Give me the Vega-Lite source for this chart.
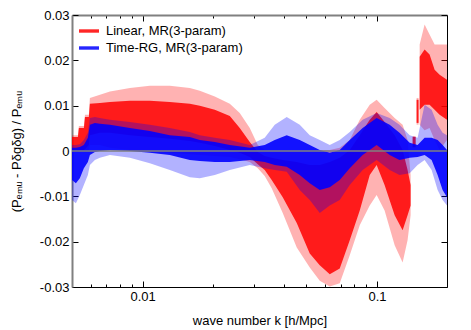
{
  "$schema": "https://vega.github.io/schema/vega-lite/v6.json",
  "width": 375,
  "height": 272,
  "autosize": {"type": "none"},
  "padding": {"left": 72, "top": 15, "right": 24, "bottom": 43},
  "background": "white",
  "config": {
    "view": {"stroke": null},
    "font": "Liberation Sans",
    "axis": {"grid": false, "labelFont": "Liberation Sans", "labelFontSize": 13, "labelColor": "black", "titleFont": "Liberation Sans", "titleFontSize": 13, "titleFontWeight": "normal", "titleColor": "black", "tickColor": "black", "labelFlush": false, "labelOverlap": false}
  },
  "data": {"values": [
    {"s": "Linear, MR(3-param)", "g": 1, "k": 0.005, "oh": 0.0035, "ch": 0.0031, "cl": 0.0002, "ol": -0.0002},
    {"s": "Linear, MR(3-param)", "g": 1, "k": 0.0053, "oh": 0.0035, "ch": 0.0031, "cl": 0.0002, "ol": -0.0002},
    {"s": "Linear, MR(3-param)", "g": 1, "k": 0.00535, "oh": 0.0055, "ch": 0.0051, "cl": 0.0002, "ol": -0.0002},
    {"s": "Linear, MR(3-param)", "g": 1, "k": 0.00562, "oh": 0.0055, "ch": 0.0051, "cl": 0.0002, "ol": -0.0002},
    {"s": "Linear, MR(3-param)", "g": 1, "k": 0.00568, "oh": 0.008, "ch": 0.0075, "cl": 0.0004, "ol": -0.0002},
    {"s": "Linear, MR(3-param)", "g": 1, "k": 0.0059, "oh": 0.008, "ch": 0.0075, "cl": 0.0013, "ol": 0.0002},
    {"s": "Linear, MR(3-param)", "g": 1, "k": 0.00596, "oh": 0.0117, "ch": 0.0104, "cl": 0.0035, "ol": 0.0013},
    {"s": "Linear, MR(3-param)", "g": 1, "k": 0.00658, "oh": 0.0124, "ch": 0.0106, "cl": 0.004, "ol": 0.0013},
    {"s": "Linear, MR(3-param)", "g": 1, "k": 0.00726, "oh": 0.0131, "ch": 0.0108, "cl": 0.004, "ol": 0.0007},
    {"s": "Linear, MR(3-param)", "g": 1, "k": 0.00883, "oh": 0.0139, "ch": 0.0111, "cl": 0.0035, "ol": 0.0002},
    {"s": "Linear, MR(3-param)", "g": 1, "k": 0.01074, "oh": 0.0144, "ch": 0.0111, "cl": 0.0031, "ol": -0.0002},
    {"s": "Linear, MR(3-param)", "g": 1, "k": 0.01307, "oh": 0.0144, "ch": 0.0108, "cl": 0.0027, "ol": -0.0004},
    {"s": "Linear, MR(3-param)", "g": 1, "k": 0.01591, "oh": 0.0139, "ch": 0.0104, "cl": 0.0022, "ol": -0.0007},
    {"s": "Linear, MR(3-param)", "g": 1, "k": 0.01755, "oh": 0.0133, "ch": 0.01, "cl": 0.0018, "ol": -0.0009},
    {"s": "Linear, MR(3-param)", "g": 1, "k": 0.02033, "oh": 0.012, "ch": 0.0091, "cl": 0.0011, "ol": -0.0011},
    {"s": "Linear, MR(3-param)", "g": 1, "k": 0.02356, "oh": 0.0104, "ch": 0.0077, "cl": 0.0002, "ol": -0.0013},
    {"s": "Linear, MR(3-param)", "g": 1, "k": 0.02598, "oh": 0.0084, "ch": 0.0051, "cl": -0.0004, "ol": -0.0018},
    {"s": "Linear, MR(3-param)", "g": 1, "k": 0.02867, "oh": 0.0051, "ch": 0.002, "cl": -0.0013, "ol": -0.0024},
    {"s": "Linear, MR(3-param)", "g": 1, "k": 0.03101, "oh": 0.0013, "ch": -0.0002, "cl": -0.0029, "ol": -0.0038},
    {"s": "Linear, MR(3-param)", "g": 1, "k": 0.0332, "oh": 0.0002, "ch": -0.0011, "cl": -0.0042, "ol": -0.0055},
    {"s": "Linear, MR(3-param)", "g": 1, "k": 0.03556, "oh": -0.0002, "ch": -0.0015, "cl": -0.0064, "ol": -0.0082},
    {"s": "Linear, MR(3-param)", "g": 1, "k": 0.03963, "oh": -0.0002, "ch": -0.002, "cl": -0.0102, "ol": -0.0137},
    {"s": "Linear, MR(3-param)", "g": 1, "k": 0.04548, "oh": -0.0002, "ch": -0.0024, "cl": -0.0159, "ol": -0.0213},
    {"s": "Linear, MR(3-param)", "g": 1, "k": 0.05168, "oh": -0.0002, "ch": -0.0031, "cl": -0.0226, "ol": -0.0257},
    {"s": "Linear, MR(3-param)", "g": 1, "k": 0.05701, "oh": 0.0002, "ch": -0.0031, "cl": -0.0252, "ol": -0.0286},
    {"s": "Linear, MR(3-param)", "g": 1, "k": 0.0629, "oh": 0.0002, "ch": -0.0024, "cl": -0.0272, "ol": -0.0299},
    {"s": "Linear, MR(3-param)", "g": 1, "k": 0.06938, "oh": 0.0007, "ch": -0.0015, "cl": -0.0259, "ol": -0.0292},
    {"s": "Linear, MR(3-param)", "g": 1, "k": 0.07654, "oh": 0.0024, "ch": 0.0002, "cl": -0.0197, "ol": -0.023},
    {"s": "Linear, MR(3-param)", "g": 1, "k": 0.08445, "oh": 0.0069, "ch": 0.0035, "cl": -0.0131, "ol": -0.0164},
    {"s": "Linear, MR(3-param)", "g": 1, "k": 0.09316, "oh": 0.0102, "ch": 0.0069, "cl": -0.0053, "ol": -0.012},
    {"s": "Linear, MR(3-param)", "g": 1, "k": 0.0997, "oh": 0.0113, "ch": 0.0086, "cl": -0.0031, "ol": -0.0097},
    {"s": "Linear, MR(3-param)", "g": 1, "k": 0.1078, "oh": 0.0095, "ch": 0.0064, "cl": -0.0075, "ol": -0.0131},
    {"s": "Linear, MR(3-param)", "g": 1, "k": 0.119, "oh": 0.0073, "ch": 0.0035, "cl": -0.0142, "ol": -0.0208},
    {"s": "Linear, MR(3-param)", "g": 1, "k": 0.1287, "oh": 0.0058, "ch": 0.0002, "cl": -0.0175, "ol": -0.0246},
    {"s": "Linear, MR(3-param)", "g": 1, "k": 0.1351, "oh": 0.0024, "ch": -0.0042, "cl": -0.0142, "ol": -0.0197},
    {"s": "Linear, MR(3-param)", "g": 1, "k": 0.1392, "oh": -0.0053, "ch": -0.0075, "cl": -0.012, "ol": -0.0142},
    {"s": "Linear, MR(3-param)", "g": 2, "k": 0.142, "oh": 0.0033, "ch": 0.0031, "cl": 0.0009, "ol": 0.0007},
    {"s": "Linear, MR(3-param)", "g": 2, "k": 0.1462, "oh": 0.0033, "ch": 0.0031, "cl": 0.0009, "ol": 0.0007},
    {"s": "Linear, MR(3-param)", "g": 3, "k": 0.1476, "oh": 0.0117, "ch": 0.0113, "cl": 0.0062, "ol": 0.0058},
    {"s": "Linear, MR(3-param)", "g": 3, "k": 0.1505, "oh": 0.0117, "ch": 0.0113, "cl": 0.0062, "ol": 0.0058},
    {"s": "Linear, MR(3-param)", "g": 4, "k": 0.1521, "oh": 0.0235, "ch": 0.0208, "cl": 0.0091, "ol": 0.0058},
    {"s": "Linear, MR(3-param)", "g": 4, "k": 0.1597, "oh": 0.0279, "ch": 0.0224, "cl": 0.0102, "ol": 0.0046},
    {"s": "Linear, MR(3-param)", "g": 4, "k": 0.1677, "oh": 0.0257, "ch": 0.0213, "cl": 0.0102, "ol": 0.0051},
    {"s": "Linear, MR(3-param)", "g": 4, "k": 0.1762, "oh": 0.0235, "ch": 0.0179, "cl": 0.0091, "ol": 0.0024},
    {"s": "Linear, MR(3-param)", "g": 4, "k": 0.1851, "oh": 0.0235, "ch": 0.0168, "cl": 0.008, "ol": 0.0002},
    {"s": "Linear, MR(3-param)", "g": 4, "k": 0.199, "oh": 0.0235, "ch": 0.0157, "cl": 0.0069, "ol": 0.0024},
    {"s": "Time-RG, MR(3-param)", "g": 1, "k": 0.005, "oh": 0.0013, "ch": 0.0007, "cl": -0.0064, "ol": -0.0108},
    {"s": "Time-RG, MR(3-param)", "g": 1, "k": 0.005195, "oh": 0.0013, "ch": 0.0007, "cl": -0.0071, "ol": -0.0115},
    {"s": "Time-RG, MR(3-param)", "g": 1, "k": 0.0054, "oh": 0.0015, "ch": 0.0009, "cl": -0.006, "ol": -0.0097},
    {"s": "Time-RG, MR(3-param)", "g": 1, "k": 0.005617, "oh": 0.0024, "ch": 0.0013, "cl": -0.0038, "ol": -0.0075},
    {"s": "Time-RG, MR(3-param)", "g": 1, "k": 0.005844, "oh": 0.004, "ch": 0.0029, "cl": -0.0024, "ol": -0.0053},
    {"s": "Time-RG, MR(3-param)", "g": 1, "k": 0.005962, "oh": 0.0073, "ch": 0.0058, "cl": -0.0009, "ol": -0.0031},
    {"s": "Time-RG, MR(3-param)", "g": 1, "k": 0.00626, "oh": 0.0075, "ch": 0.0062, "cl": -0.0002, "ol": -0.002},
    {"s": "Time-RG, MR(3-param)", "g": 1, "k": 0.006577, "oh": 0.0073, "ch": 0.006, "cl": 0, "ol": -0.0015},
    {"s": "Time-RG, MR(3-param)", "g": 1, "k": 0.00726, "oh": 0.0069, "ch": 0.0058, "cl": 0.0002, "ol": -0.0009},
    {"s": "Time-RG, MR(3-param)", "g": 1, "k": 0.00883, "oh": 0.0064, "ch": 0.0051, "cl": 0, "ol": -0.0015},
    {"s": "Time-RG, MR(3-param)", "g": 1, "k": 0.01074, "oh": 0.0058, "ch": 0.0044, "cl": -0.0004, "ol": -0.0027},
    {"s": "Time-RG, MR(3-param)", "g": 1, "k": 0.01307, "oh": 0.0051, "ch": 0.0035, "cl": -0.0009, "ol": -0.0042},
    {"s": "Time-RG, MR(3-param)", "g": 1, "k": 0.01591, "oh": 0.0042, "ch": 0.0031, "cl": -0.002, "ol": -0.0058},
    {"s": "Time-RG, MR(3-param)", "g": 1, "k": 0.01755, "oh": 0.0035, "ch": 0.0024, "cl": -0.0022, "ol": -0.006},
    {"s": "Time-RG, MR(3-param)", "g": 1, "k": 0.02033, "oh": 0.0029, "ch": 0.002, "cl": -0.0024, "ol": -0.0053},
    {"s": "Time-RG, MR(3-param)", "g": 1, "k": 0.02356, "oh": 0.0024, "ch": 0.0013, "cl": -0.0024, "ol": -0.0042},
    {"s": "Time-RG, MR(3-param)", "g": 1, "k": 0.02867, "oh": 0.0013, "ch": 0.0007, "cl": -0.002, "ol": -0.0031},
    {"s": "Time-RG, MR(3-param)", "g": 1, "k": 0.0332, "oh": 0.0029, "ch": 0.0013, "cl": -0.0024, "ol": -0.0038},
    {"s": "Time-RG, MR(3-param)", "g": 1, "k": 0.03664, "oh": 0.0058, "ch": 0.0024, "cl": -0.0031, "ol": -0.0042},
    {"s": "Time-RG, MR(3-param)", "g": 1, "k": 0.04121, "oh": 0.0075, "ch": 0.0035, "cl": -0.0035, "ol": -0.0046},
    {"s": "Time-RG, MR(3-param)", "g": 1, "k": 0.04684, "oh": 0.0058, "ch": 0.0024, "cl": -0.0053, "ol": -0.0086},
    {"s": "Time-RG, MR(3-param)", "g": 1, "k": 0.05168, "oh": 0.0035, "ch": 0.0013, "cl": -0.0071, "ol": -0.0108},
    {"s": "Time-RG, MR(3-param)", "g": 1, "k": 0.05701, "oh": 0.0024, "ch": 0.0002, "cl": -0.0086, "ol": -0.0137},
    {"s": "Time-RG, MR(3-param)", "g": 1, "k": 0.0629, "oh": 0.0013, "ch": -0.0004, "cl": -0.008, "ol": -0.012},
    {"s": "Time-RG, MR(3-param)", "g": 1, "k": 0.06938, "oh": 0.0024, "ch": 0.0002, "cl": -0.0064, "ol": -0.0108},
    {"s": "Time-RG, MR(3-param)", "g": 1, "k": 0.07654, "oh": 0.0042, "ch": 0.0024, "cl": -0.0038, "ol": -0.0075},
    {"s": "Time-RG, MR(3-param)", "g": 1, "k": 0.0869, "oh": 0.0069, "ch": 0.0051, "cl": -0.0009, "ol": -0.0042},
    {"s": "Time-RG, MR(3-param)", "g": 1, "k": 0.0997, "oh": 0.0084, "ch": 0.0073, "cl": 0.0013, "ol": -0.002},
    {"s": "Time-RG, MR(3-param)", "g": 1, "k": 0.1133, "oh": 0.0073, "ch": 0.0058, "cl": -0.0009, "ol": -0.0042},
    {"s": "Time-RG, MR(3-param)", "g": 1, "k": 0.1248, "oh": 0.0058, "ch": 0.004, "cl": -0.002, "ol": -0.0053},
    {"s": "Time-RG, MR(3-param)", "g": 1, "k": 0.1379, "oh": 0.0035, "ch": 0.0018, "cl": -0.0015, "ol": -0.0049},
    {"s": "Time-RG, MR(3-param)", "g": 1, "k": 0.1491, "oh": 0.0029, "ch": 0.0013, "cl": -0.0013, "ol": -0.0031},
    {"s": "Time-RG, MR(3-param)", "g": 1, "k": 0.1597, "oh": 0.0102, "ch": 0.0029, "cl": -0.0009, "ol": -0.002},
    {"s": "Time-RG, MR(3-param)", "g": 1, "k": 0.1711, "oh": 0.0091, "ch": 0.0029, "cl": -0.002, "ol": -0.0042},
    {"s": "Time-RG, MR(3-param)", "g": 1, "k": 0.1815, "oh": 0.0058, "ch": 0.0024, "cl": -0.0053, "ol": -0.0086},
    {"s": "Time-RG, MR(3-param)", "g": 1, "k": 0.1906, "oh": 0.004, "ch": 0.0013, "cl": -0.0086, "ol": -0.0108},
    {"s": "Time-RG, MR(3-param)", "g": 1, "k": 0.199, "oh": 0.0035, "ch": 0.0002, "cl": -0.0102, "ol": -0.012}
  ]},
  "layer": [
    {
      "transform": [{"filter": "datum.s == 'Linear, MR(3-param)'"}],
      "mark": {"type": "area", "opacity": 0.3},
      "encoding": {
        "x": {"field": "k", "type": "quantitative", "scale": {"type": "log", "domain": [0.005, 0.199], "nice": false},
          "axis": {"orient": "bottom", "values": [0.006, 0.007, 0.008, 0.009, 0.01, 0.02, 0.03, 0.04, 0.05, 0.06, 0.07, 0.08, 0.09, 0.1],
            "labelExpr": "datum.value == 0.01 ? '0.01' : (datum.value == 0.1 ? '0.1' : '')",
            "tickSize": {"condition": {"test": "datum.value == 0.01 || datum.value == 0.1", "value": -6}, "value": -3},
            "labelPadding": 9, "title": "wave number k [h/Mpc]", "titlePadding": 8, "domainColor": "black", "domainWidth": 1}},
        "y": {"field": "ol", "type": "quantitative", "stack": null, "scale": {"domain": [-0.03, 0.03], "nice": false},
          "axis": {"orient": "left", "values": [-0.03, -0.02, -0.01, 0, 0.01, 0.02, 0.03], "labelExpr": "'' + datum.value",
            "tickSize": -6, "labelPadding": 9, "title": "(Pₑₘᵤ - Pδgδg) / Pₑₘᵤ", "titlePadding": 16, "domainColor": "#808080", "domainWidth": 2}},
        "y2": {"field": "oh"},
        "detail": {"field": "g"},
        "color": {"field": "s", "type": "nominal", "scale": {"domain": ["Linear, MR(3-param)", "Time-RG, MR(3-param)"], "range": ["#ff0000", "#0000ff"]},
          "legend": {"orient": "none", "legendX": 7, "legendY": 6, "title": null, "symbolType": "M-1,-0.17L1,-0.17L1,0.17L-1,0.17Z", "symbolSize": 400, "symbolOpacity": 1, "symbolStrokeWidth": 0, "labelFont": "Liberation Sans", "labelFontSize": 13, "labelColor": "black", "labelOffset": 7, "rowPadding": -9, "padding": 0}}
      }
    },
    {
      "transform": [{"filter": "datum.s == 'Linear, MR(3-param)'"}],
      "mark": {"type": "area", "opacity": 0.85},
      "encoding": {
        "x": {"field": "k", "type": "quantitative",
          "axis": {"orient": "top", "values": [0.006, 0.007, 0.008, 0.009, 0.01, 0.02, 0.03, 0.04, 0.05, 0.06, 0.07, 0.08, 0.09, 0.1],
            "labels": false, "tickSize": {"condition": {"test": "datum.value == 0.01 || datum.value == 0.1", "value": -6}, "value": -3},
            "title": null, "domainColor": "#808080", "domainWidth": 2}},
        "y": {"field": "cl", "type": "quantitative", "stack": null,
          "axis": {"orient": "right", "values": [-0.03, -0.02, -0.01, 0, 0.01, 0.02, 0.03], "labels": false, "tickSize": -6, "title": null, "domainColor": "black", "domainWidth": 1}},
        "y2": {"field": "ch"},
        "detail": {"field": "g"},
        "color": {"field": "s", "type": "nominal"}
      }
    },
    {
      "transform": [{"filter": "datum.s == 'Time-RG, MR(3-param)'"}],
      "mark": {"type": "area", "opacity": 0.3},
      "encoding": {
        "x": {"field": "k", "type": "quantitative", "axis": null},
        "y": {"field": "ol", "type": "quantitative", "stack": null, "axis": null},
        "y2": {"field": "oh"},
        "detail": {"field": "g"},
        "color": {"field": "s", "type": "nominal"}
      }
    },
    {
      "transform": [{"filter": "datum.s == 'Time-RG, MR(3-param)'"}],
      "mark": {"type": "area", "opacity": 0.9},
      "encoding": {
        "x": {"field": "k", "type": "quantitative", "axis": null},
        "y": {"field": "cl", "type": "quantitative", "stack": null, "axis": null},
        "y2": {"field": "ch"},
        "detail": {"field": "g"},
        "color": {"field": "s", "type": "nominal"}
      }
    },
    {
      "data": {"values": [{"z": 0}]},
      "mark": {"type": "rule", "color": "#808080", "strokeWidth": 1.5},
      "encoding": {"y": {"field": "z", "type": "quantitative", "axis": null}}
    }
  ],
  "resolve": {"axis": {"x": "independent", "y": "independent"}}
}
